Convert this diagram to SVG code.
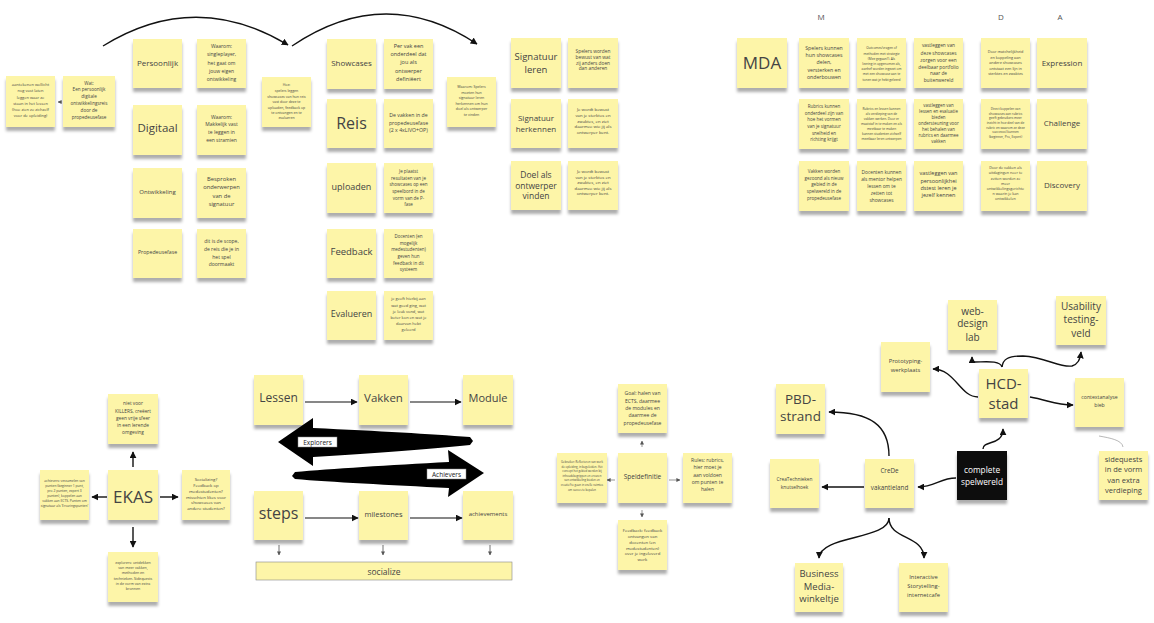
<svg xmlns="http://www.w3.org/2000/svg" width="1154" height="623" viewBox="0 0 1154 623">
<defs>
<filter id="sh" x="-20%" y="-20%" width="140%" height="150%"><feDropShadow dx="0" dy="4" stdDeviation="1.8" flood-color="#000" flood-opacity="0.32"/></filter>
<marker id="ah" viewBox="0 0 10 10" refX="9" refY="5" markerWidth="7" markerHeight="7" orient="auto" markerUnits="userSpaceOnUse"><path d="M0,0 L10,5 L0,10 z" fill="#111"/></marker>
<marker id="as" viewBox="0 0 10 10" refX="9" refY="5" markerWidth="4" markerHeight="4" orient="auto" markerUnits="userSpaceOnUse"><path d="M0,0 L10,5 L0,10 z" fill="#555"/></marker>
</defs>
<style>
.n{fill:#fdf5a8;filter:url(#sh)}
.blk{fill:#111;filter:url(#sh)}
text{font-family:"Open Sans","Liberation Sans",sans-serif;fill:#444;text-anchor:middle;dominant-baseline:central}
.w{fill:#fff}
.lbl{fill:#555}
.c{fill:none;stroke:#111;stroke-width:1.4;marker-end:url(#ah)}
.cs{fill:none;stroke:#666;stroke-width:0.7;marker-end:url(#as)}
.f28{font-size:2.8px}.f32{font-size:3.2px}.f33{font-size:3.3px}.f35{font-size:3.5px}.f36{font-size:3.6px}.f37{font-size:3.7px}.f38{font-size:3.8px}.f4{font-size:4px}.f43{font-size:4.3px}.f44{font-size:4.4px}.f45{font-size:4.5px}.f46{font-size:4.6px}.f48{font-size:4.8px}.f5{font-size:5px}.f52{font-size:5.2px}.f55{font-size:5.5px}.f58{font-size:5.8px}.f6{font-size:6px}.f63{font-size:6.3px}.f65{font-size:6.5px}.f66{font-size:6.6px}.f7{font-size:7px}.f75{font-size:7.5px}.f8{font-size:8px}.f83{font-size:8.3px}.f85{font-size:8.5px}.f9{font-size:9px}.f95{font-size:9.5px}.f10{font-size:10px}.f11{font-size:11px}.f115{font-size:11.5px}.f12{font-size:12px}.f135{font-size:13.5px}.f15{font-size:15px}.f16{font-size:16px}.f17{font-size:17px}
</style>
<rect width="1154" height="623" fill="#fff"/>

<g id="connectors">
<path class="c" d="M103 46 Q195 -11 288 45"/>
<path class="c" d="M292 46 Q385 -17 477 44"/>
<path class="cs" d="M62 102 L58 102"/>
<path class="c" d="M305 402 L357 402" style="stroke-width:1.1"/>
<path class="c" d="M410 402 L461 402" style="stroke-width:1.1"/>
<path class="c" d="M305 518 L358 518" style="stroke-width:1.1"/>
<path class="c" d="M410 518 L462 518" style="stroke-width:1.1"/>
<path class="cs" d="M279 545 L279 555" style="stroke:#333"/>
<path class="cs" d="M383 545 L383 555" style="stroke:#333"/>
<path class="cs" d="M490 545 L490 555" style="stroke:#333"/>
<path class="c" d="M133 467 L133 452"/>
<path class="c" d="M107 497 L92 497"/>
<path class="c" d="M160 497 L178 497"/>
<path class="c" d="M133 527 L133 547"/>
<path class="cs" d="M642 447 L642 441"/>
<path class="cs" d="M615 480 L607 480"/>
<path class="cs" d="M669 480 L680 480"/>
<path class="cs" d="M642 510 L642 517"/>
<path class="c" d="M983 449 C983 440 1003 446 1003 429"/>
<path class="c" d="M956 478 C940 478 935 487 918 487"/>
<path class="c" d="M889 456 C889 425 870 412 829 412"/>
<path class="c" d="M864 487 L822 487"/>
<path class="c" d="M889 518 C889 540 820 535 819 558"/>
<path class="c" d="M889 518 C889 540 924 535 924 558"/>
<path class="c" d="M978 397 C960 397 955 369 933 369"/>
<path class="c" d="M1002 367 C1000 360 985 362 975 362 C973 362 972 360 972 357"/>
<path class="c" d="M1002 367 C1003 359 1008 356 1023 356 C1045 357 1060 368 1072 366 C1078 364 1080 360 1081 352"/>
<path class="c" d="M1030 397 C1048 400 1055 405 1073 405"/>
<path d="M1099 436 C1110 438 1122 440 1123 447" fill="none" stroke="#999" stroke-width="0.7"/>
<path d="M278 442 L313 418 L313 428 C380 431 430 434 470 437 L473 441 L470 445 C430 449 380 453 313 457 L313 466 Z" fill="#000"/>
<path d="M484 473 L448 450 L449 462 C390 465 330 469 295 472 L292 476 L295 479 C330 482 390 485 449 488 L448 497 Z" fill="#000"/>
<rect x="298" y="437" width="39" height="10" fill="#fff" stroke="#888" stroke-width="0.5"/>
<text class="f65" x="317.5" y="442" style="fill:#222">Explorers</text>
<rect x="427" y="469" width="39" height="10" fill="#fff" stroke="#888" stroke-width="0.5"/>
<text class="f65" x="446.5" y="474" style="fill:#222">Achievers</text>
</g>

<g id="n-aantekenen"><rect class="n" x="6" y="76" width="49" height="51"/><text class="f4"><tspan x="30.5" y="84">aantekenen wellicht</tspan><tspan x="30.5" y="90">nog vast laten</tspan><tspan x="30.5" y="96.5">leggen waar ze</tspan><tspan x="30.5" y="102.5">staan in het lessen</tspan><tspan x="30.5" y="108.5">(hoe zien ze zichzelf</tspan><tspan x="30.5" y="114.5">voor de opleiding)</tspan></text></g>
<g id="n-wat"><rect class="n" x="63" y="76" width="52" height="51"/><text class="f46"><tspan x="89" y="82.7">Wat:</tspan><tspan x="89" y="89.3">Een persoonlijk</tspan><tspan x="89" y="96">digitale</tspan><tspan x="89" y="102.7">ontwikkelingsreis</tspan><tspan x="89" y="110">door de</tspan><tspan x="89" y="116.7">propedeusefase</tspan></text></g>

<g id="n-persoonlijk"><rect class="n" x="133" y="39" width="49" height="49"/><text class="f8" x="157.5" y="62.5">Persoonlijk</text></g>
<g id="n-waarom1"><rect class="n" x="197" y="39" width="49" height="49"/><text class="f5"><tspan x="221.5" y="46">Waarom:</tspan><tspan x="221.5" y="54.3">singleplayer,</tspan><tspan x="221.5" y="62.5">het gaat om</tspan><tspan x="221.5" y="70.7">jouw eigen</tspan><tspan x="221.5" y="79">ontwikkeling</tspan></text></g>
<g id="n-digitaal"><rect class="n" x="133" y="105" width="49" height="50"/><text class="f115" x="157.5" y="127.7">Digitaal</text></g>
<g id="n-waarom2"><rect class="n" x="197" y="105" width="49" height="50"/><text class="f5"><tspan x="221.5" y="116.7">Waarom:</tspan><tspan x="221.5" y="124.3">Makkelijk vast</tspan><tspan x="221.5" y="132.3">te leggen in</tspan><tspan x="221.5" y="140">een stramien</tspan></text></g>
<g id="n-ontwikkeling"><rect class="n" x="133" y="168" width="49" height="50"/><text class="f6" x="157.5" y="192.3">Ontwikkeling</text></g>
<g id="n-besproken"><rect class="n" x="197" y="168" width="49" height="50"/><text class="f58"><tspan x="221.5" y="179">Besproken</tspan><tspan x="221.5" y="187.3">onderwerpen</tspan><tspan x="221.5" y="195.7">van de</tspan><tspan x="221.5" y="204">signatuur</tspan></text></g>
<g id="n-propedeusefase"><rect class="n" x="133" y="229" width="49" height="49"/><text class="f52" x="157.5" y="251.7">Propedeusefase</text></g>
<g id="n-scope"><rect class="n" x="197" y="229" width="49" height="49"/><text class="f5"><tspan x="221.5" y="240.7">dit is de scope,</tspan><tspan x="221.5" y="248.7">de reis die je in</tspan><tspan x="221.5" y="256.7">het spel</tspan><tspan x="221.5" y="264.3">doormaakt</tspan></text></g>

<g id="n-hoe"><rect class="n" x="262" y="77" width="49" height="50"/><text class="f35"><tspan x="286.5" y="84.3">Hoe:</tspan><tspan x="286.5" y="90">spelers leggen</tspan><tspan x="286.5" y="95.7">showcases van hun reis</tspan><tspan x="286.5" y="101">vast door deze te</tspan><tspan x="286.5" y="106.5">uploaden, feedback op</tspan><tspan x="286.5" y="111.7">te ontvangen en te</tspan><tspan x="286.5" y="117">evalueren</tspan></text></g>
<g id="n-showcases"><rect class="n" x="327" y="39" width="49" height="50"/><text class="f8" x="351.5" y="62.3">Showcases</text></g>
<g id="n-pervak"><rect class="n" x="384" y="39" width="49" height="50"/><text class="f55"><tspan x="408.5" y="46">Per vak een</tspan><tspan x="408.5" y="54.3">onderdeel dat</tspan><tspan x="408.5" y="62.3">jou als</tspan><tspan x="408.5" y="70.7">ontwerper</tspan><tspan x="408.5" y="79">definiëert</tspan></text></g>
<g id="n-reis"><rect class="n" x="327" y="99" width="49" height="49"/><text class="f16" x="351.5" y="122.7">Reis</text></g>
<g id="n-vakken-p"><rect class="n" x="384" y="99" width="49" height="49"/><text class="f52"><tspan x="408.5" y="115.3">De vakken in de</tspan><tspan x="408.5" y="122.7">propedeusefase</tspan><tspan x="408.5" y="130">(2 x 4xLIVO+OP)</tspan></text></g>
<g id="n-uploaden"><rect class="n" x="327" y="163" width="49" height="50"/><text class="f9" x="351.5" y="186.7">uploaden</text></g>
<g id="n-plaatst"><rect class="n" x="384" y="163" width="49" height="50"/><text class="f45"><tspan x="408.5" y="171">Je plaatst</tspan><tspan x="408.5" y="177.7">resultaten van je</tspan><tspan x="408.5" y="184.3">showcases op een</tspan><tspan x="408.5" y="191">speelbord in de</tspan><tspan x="408.5" y="197.7">vorm van de P-</tspan><tspan x="408.5" y="204.3">fase</tspan></text></g>
<g id="n-feedback"><rect class="n" x="327" y="229" width="49" height="49"/><text class="f95" x="351.5" y="251.7">Feedback</text></g>
<g id="n-docenten"><rect class="n" x="384" y="229" width="49" height="49"/><text class="f45"><tspan x="408.5" y="236">Docenten (en</tspan><tspan x="408.5" y="242.7">mogelijk</tspan><tspan x="408.5" y="249.3">medestudenten)</tspan><tspan x="408.5" y="256">geven hun</tspan><tspan x="408.5" y="262.7">feedback in dit</tspan><tspan x="408.5" y="269.3">systeem</tspan></text></g>
<g id="n-evalueren"><rect class="n" x="327" y="291" width="49" height="49"/><text class="f9" x="351.5" y="313.3">Evalueren</text></g>
<g id="n-geeft"><rect class="n" x="384" y="291" width="49" height="49"/><text class="f4"><tspan x="408.5" y="298.3">je geeft hierbij aan</tspan><tspan x="408.5" y="305">wat goed ging, wat</tspan><tspan x="408.5" y="311">je leuk vond, wat</tspan><tspan x="408.5" y="317.3">beter kon en wat je</tspan><tspan x="408.5" y="323.3">daarvan hebt</tspan><tspan x="408.5" y="329.3">geleerd</tspan></text></g>
<g id="n-waarom3"><rect class="n" x="447" y="77" width="49" height="50"/><text class="f36"><tspan x="471.5" y="86">Waarom: Spelers</tspan><tspan x="471.5" y="91.7">moeten hun</tspan><tspan x="471.5" y="97.3">signatuur leren</tspan><tspan x="471.5" y="102.7">herkennen om hun</tspan><tspan x="471.5" y="108.3">doel als ontwerper</tspan><tspan x="471.5" y="114">te vinden</tspan></text></g>

<g id="n-sig-leren"><rect class="n" x="511" y="38" width="50" height="50"/><text class="f95"><tspan x="536" y="56">Signatuur</tspan><tspan x="536" y="69">leren</tspan></text></g>
<g id="n-spelers-bewust"><rect class="n" x="568" y="38" width="50" height="50"/><text class="f48"><tspan x="593" y="50.7">Spelers worden</tspan><tspan x="593" y="56.7">bewust van wat</tspan><tspan x="593" y="62.7">zij anders doen</tspan><tspan x="593" y="68.3">dan anderen</tspan></text></g>
<g id="n-sig-herkennen"><rect class="n" x="511" y="99" width="50" height="49"/><text class="f8"><tspan x="536" y="117.3">Signatuur</tspan><tspan x="536" y="128.3">herkennen</tspan></text></g>
<g id="n-bewust1"><rect class="n" x="568" y="99" width="50" height="49"/><text class="f43"><tspan x="593" y="109.3">Je wordt bewust</tspan><tspan x="593" y="115">van je sterktes en</tspan><tspan x="593" y="120.7">zwaktes, en ziet</tspan><tspan x="593" y="126">daarmee wie jij als</tspan><tspan x="593" y="131.7">ontwerper bent.</tspan></text></g>
<g id="n-doel"><rect class="n" x="511" y="161" width="50" height="49"/><text class="f85"><tspan x="536" y="174">Doel als</tspan><tspan x="536" y="184.5">ontwerper</tspan><tspan x="536" y="195">vinden</tspan></text></g>
<g id="n-bewust2"><rect class="n" x="568" y="161" width="50" height="49"/><text class="f43"><tspan x="593" y="171">Je wordt bewust</tspan><tspan x="593" y="176.7">van je sterktes en</tspan><tspan x="593" y="182.3">zwaktes, en ziet</tspan><tspan x="593" y="187.7">daarmee wie jij als</tspan><tspan x="593" y="193.3">ontwerper bent.</tspan></text></g>

<g id="mda-labels"><text class="f8 lbl" x="821" y="16">M</text><text class="f8 lbl" x="1001" y="16">D</text><text class="f8 lbl" x="1060" y="16">A</text></g>
<g id="n-mda"><rect class="n" x="737" y="38" width="50" height="50"/><text class="f17" x="762" y="62.3">MDA</text></g>
<g id="n-m1"><rect class="n" x="799" y="38" width="50" height="50"/><text class="f52"><tspan x="824" y="47.7">Spelers kunnen</tspan><tspan x="824" y="55">hun showcases</tspan><tspan x="824" y="62.3">delen,</tspan><tspan x="824" y="70">versterken en</tspan><tspan x="824" y="77.3">onderbouwen</tspan></text></g>
<g id="n-m2"><rect class="n" x="799" y="99" width="50" height="50"/><text class="f45"><tspan x="824" y="105.7">Rubrics kunnen</tspan><tspan x="824" y="112.7">onderdeel zijn van</tspan><tspan x="824" y="119.3">hoe het vormen</tspan><tspan x="824" y="126">van je signatuur</tspan><tspan x="824" y="132.7">snelheid en</tspan><tspan x="824" y="139.3">richting krijgt</tspan></text></g>
<g id="n-m3"><rect class="n" x="799" y="161" width="50" height="50"/><text class="f45"><tspan x="824" y="171">Vakken worden</tspan><tspan x="824" y="177.7">gezoond als nieuw</tspan><tspan x="824" y="184.3">gebied in de</tspan><tspan x="824" y="191">spelwereld in de</tspan><tspan x="824" y="197.7">propedeusefase</tspan></text></g>
<g id="n-m4"><rect class="n" x="857" y="38" width="49" height="50"/><text class="f32"><tspan x="881.5" y="48.3">Outcomes/vragen of</tspan><tspan x="881.5" y="53.5">methoden met strategie</tspan><tspan x="881.5" y="58.7">(Mee gegaan?). Als</tspan><tspan x="881.5" y="63.9">leering in opgenomen als,</tspan><tspan x="881.5" y="69.1">aanhef worden ingezet om</tspan><tspan x="881.5" y="74.3">met een showcase aan te</tspan><tspan x="881.5" y="79.5">tonen wat je hebt geleerd</tspan></text></g>
<g id="n-m5"><rect class="n" x="857" y="99" width="49" height="50"/><text class="f32"><tspan x="881.5" y="109">Rubrics en lessen kunnen</tspan><tspan x="881.5" y="114">als verdieping van de</tspan><tspan x="881.5" y="119">vakken werken. Door er</tspan><tspan x="881.5" y="124">maatstaf in te maken en als</tspan><tspan x="881.5" y="129">meetbaar te maken</tspan><tspan x="881.5" y="134">kunnen studenten zichzelf</tspan><tspan x="881.5" y="139">meetbaar leren ontwerpen</tspan></text></g>
<g id="n-m6"><rect class="n" x="857" y="161" width="49" height="50"/><text class="f48"><tspan x="881.5" y="171.7">Docenten kunnen</tspan><tspan x="881.5" y="179">als mentor helpen</tspan><tspan x="881.5" y="186">lessen om te</tspan><tspan x="881.5" y="193.3">zetten tot</tspan><tspan x="881.5" y="200">showcases</tspan></text></g>
<g id="n-m7"><rect class="n" x="914" y="38" width="49" height="50"/><text class="f48"><tspan x="938.5" y="45">vastleggen van</tspan><tspan x="938.5" y="52.7">deze showcases</tspan><tspan x="938.5" y="60">zorgen voor een</tspan><tspan x="938.5" y="66.7">deelbaar portfolio</tspan><tspan x="938.5" y="73.3">naar de</tspan><tspan x="938.5" y="80">buitenwereld</tspan></text></g>
<g id="n-m8"><rect class="n" x="914" y="99" width="49" height="50"/><text class="f44"><tspan x="938.5" y="105">vastleggen van</tspan><tspan x="938.5" y="111">lessen en evaluatie</tspan><tspan x="938.5" y="117.3">bieden</tspan><tspan x="938.5" y="123.3">ondersteuning voor</tspan><tspan x="938.5" y="129.3">het behalen van</tspan><tspan x="938.5" y="135">rubrics en daarmee</tspan><tspan x="938.5" y="141">vakken</tspan></text></g>
<g id="n-m9"><rect class="n" x="914" y="161" width="49" height="50"/><text class="f55"><tspan x="938.5" y="173.3">vastleggen van</tspan><tspan x="938.5" y="180.7">persoonlijkhei</tspan><tspan x="938.5" y="187.7">dstest leren je</tspan><tspan x="938.5" y="195">jezelf kennen</tspan></text></g>
<g id="n-d1"><rect class="n" x="981" y="38" width="49" height="50"/><text class="f38"><tspan x="1005.5" y="51">Door matchelijkheid</tspan><tspan x="1005.5" y="56.7">en koppeling aan</tspan><tspan x="1005.5" y="62.3">andere showcases</tspan><tspan x="1005.5" y="67.7">ontstaat een lijn in</tspan><tspan x="1005.5" y="73.3">sterktes en zwaktes</tspan></text></g>
<g id="n-d2"><rect class="n" x="981" y="99" width="49" height="50"/><text class="f32"><tspan x="1005.5" y="109">Direct koppelen van</tspan><tspan x="1005.5" y="113.7">showcases aan rubrics</tspan><tspan x="1005.5" y="118.3">geeft gebruikers meer</tspan><tspan x="1005.5" y="123">inzicht in hoe deel van de</tspan><tspan x="1005.5" y="127.7">rubric en waarom ze deze</tspan><tspan x="1005.5" y="132.3">succesvol kunnen</tspan><tspan x="1005.5" y="137">(beginner, Pro, Expert)</tspan></text></g>
<g id="n-d3"><rect class="n" x="981" y="161" width="49" height="50"/><text class="f37"><tspan x="1005.5" y="167.3">Door de vakken als</tspan><tspan x="1005.5" y="172.3">uitdagingen neer te</tspan><tspan x="1005.5" y="177.7">zetten worden ze</tspan><tspan x="1005.5" y="182.7">meer</tspan><tspan x="1005.5" y="188">ontwikkelingsgerichte</tspan><tspan x="1005.5" y="193">n waarin je kan</tspan><tspan x="1005.5" y="198.3">ontwikkelen</tspan></text></g>
<g id="n-expression"><rect class="n" x="1037" y="38" width="50" height="50"/><text class="f8" x="1062" y="62.3">Expression</text></g>
<g id="n-challenge"><rect class="n" x="1037" y="99" width="50" height="50"/><text class="f8" x="1062" y="122.3">Challenge</text></g>
<g id="n-discovery"><rect class="n" x="1037" y="161" width="50" height="50"/><text class="f8" x="1062" y="184.3">Discovery</text></g>

<g id="n-killers"><rect class="n" x="108" y="394" width="50" height="50"/><text class="f48"><tspan x="133" y="403.3">niet voor</tspan><tspan x="133" y="410.7">KILLERS, creëert</tspan><tspan x="133" y="417.7">geen vrije sfeer</tspan><tspan x="133" y="425">in een lerende</tspan><tspan x="133" y="432.3">omgeving</tspan></text></g>
<g id="n-ekas"><rect class="n" x="108" y="470" width="50" height="50"/><text class="f17" x="133" y="496">EKAS</text></g>
<g id="n-achievers"><rect class="n" x="40" y="470" width="49" height="50"/><text class="f33"><tspan x="64.5" y="480">achievers: verzamelen van</tspan><tspan x="64.5" y="485">punten (beginner 1 punt,</tspan><tspan x="64.5" y="490">pro 2 punten, expert 3</tspan><tspan x="64.5" y="495">punten), koppelen aan</tspan><tspan x="64.5" y="500">vakken aan ECTS. Punten om</tspan><tspan x="64.5" y="505">signatuur als 'Ervaringspunten'</tspan></text></g>
<g id="n-socializing"><rect class="n" x="182" y="470" width="48" height="50"/><text class="f43"><tspan x="206" y="479.3">Socializing?</tspan><tspan x="206" y="485">Feedback op</tspan><tspan x="206" y="491">medestudenten?</tspan><tspan x="206" y="496.7">misschien likes voor</tspan><tspan x="206" y="502.3">showcases van</tspan><tspan x="206" y="508.3">andere studenten?</tspan></text></g>
<g id="n-explorers"><rect class="n" x="108" y="552" width="50" height="50"/><text class="f36"><tspan x="133" y="562.3">explorers: ontdekken</tspan><tspan x="133" y="567.3">van meer vakken,</tspan><tspan x="133" y="572.3">methoden en</tspan><tspan x="133" y="577.7">technieken. Sidequests</tspan><tspan x="133" y="582.7">in de vorm van extra</tspan><tspan x="133" y="588">bronnen</tspan></text></g>

<g id="n-lessen"><rect class="n" x="254" y="375" width="49" height="50"/><text class="f12" x="278.5" y="397.7">Lessen</text></g>
<g id="n-vakken"><rect class="n" x="359" y="375" width="49" height="50"/><text class="f115" x="383.5" y="397.7">Vakken</text></g>
<g id="n-module"><rect class="n" x="463" y="375" width="50" height="50"/><text class="f11" x="488" y="397.7">Module</text></g>
<g id="n-steps"><rect class="n" x="254" y="491" width="49" height="49"/><text class="f16" x="278.5" y="513">steps</text></g>
<g id="n-milestones"><rect class="n" x="359" y="491" width="49" height="49"/><text class="f75" x="383.5" y="514.3">milestones</text></g>
<g id="n-achievements"><rect class="n" x="463" y="491" width="50" height="49"/><text class="f6" x="488" y="514.3">achievements</text></g>
<g id="n-socialize"><rect x="256" y="562" width="256" height="18" fill="#fdf5a8" stroke="#888" stroke-width="0.6"/><text class="f85" x="384" y="571">socialize</text></g>

<g id="n-goal"><rect class="n" x="618" y="384" width="49" height="49"/><text class="f5"><tspan x="642.5" y="393.3">Goal: halen van</tspan><tspan x="642.5" y="400.7">ECTS, daarmee</tspan><tspan x="642.5" y="408">de modules en</tspan><tspan x="642.5" y="415.3">daarmee de</tspan><tspan x="642.5" y="422.7">propedeusefase</tspan></text></g>
<g id="n-speldefinitie"><rect class="n" x="618" y="453" width="49" height="50"/><text class="f65" x="642.5" y="476.7">Speldefinitie</text></g>
<g id="n-gebruiker"><rect class="n" x="557" y="453" width="50" height="50"/><text class="f28"><tspan x="582" y="462">Gebruiker: Reflecteren van werk</tspan><tspan x="582" y="466.6">de opleiding, in begeleiden. Het</tspan><tspan x="582" y="471.2">concept het gebied werden bij</tspan><tspan x="582" y="475.8">inhoudsbegrippen en ervaren</tspan><tspan x="582" y="480.4">van ontwikkeling bieden en</tspan><tspan x="582" y="485">creatief te gaan in snelle ruimtes</tspan><tspan x="582" y="489.6">om succes te bepalen</tspan></text></g>
<g id="n-rules"><rect class="n" x="683" y="453" width="49" height="50"/><text class="f5"><tspan x="707.5" y="460">Rules: rubrics,</tspan><tspan x="707.5" y="467.3">hier moet je</tspan><tspan x="707.5" y="474.7">aan voldoen</tspan><tspan x="707.5" y="482">om punten te</tspan><tspan x="707.5" y="489.3">halen</tspan></text></g>
<g id="n-fb"><rect class="n" x="618" y="520" width="49" height="50"/><text class="f43"><tspan x="642.5" y="530">Feedback: feedback</tspan><tspan x="642.5" y="536">ontvangen van</tspan><tspan x="642.5" y="541.7">docenten (en</tspan><tspan x="642.5" y="547.7">medestudenten)</tspan><tspan x="642.5" y="553.3">over je ingeleverd</tspan><tspan x="642.5" y="559">werk</tspan></text></g>

<g id="n-webdesign"><rect class="n" x="948" y="300" width="49" height="50"/><text class="f10"><tspan x="972.5" y="310.7">web-</tspan><tspan x="972.5" y="323.3">design</tspan><tspan x="972.5" y="336.7">lab</tspan></text></g>
<g id="n-prototyping"><rect class="n" x="881" y="342" width="49" height="50"/><text class="f58"><tspan x="905.5" y="360.7">Prototyping-</tspan><tspan x="905.5" y="370">werkplaats</tspan></text></g>
<g id="n-pbd"><rect class="n" x="776" y="384" width="49" height="50"/><text class="f135"><tspan x="800.5" y="399">PBD-</tspan><tspan x="800.5" y="416">strand</tspan></text></g>
<g id="n-crea"><rect class="n" x="770" y="459" width="49" height="49"/><text class="f48"><tspan x="794.5" y="479.3">CreaTechnieken</tspan><tspan x="794.5" y="486.7">knutselhoek</tspan></text></g>
<g id="n-crede"><rect class="n" x="865" y="459" width="49" height="49"/><text class="f63"><tspan x="889.5" y="470">CreDe</tspan><tspan x="889.5" y="487">vakantieland</tspan></text></g>
<g id="n-complete"><rect class="blk" x="957" y="451" width="50" height="49"/><text class="f83 w"><tspan x="982" y="469">complete</tspan><tspan x="982" y="480.7">spelwereld</tspan></text></g>
<g id="n-hcd"><rect class="n" x="979" y="369" width="49" height="49"/><text class="f15"><tspan x="1003.5" y="382.7">HCD-</tspan><tspan x="1003.5" y="402.7">stad</tspan></text></g>
<g id="n-usability"><rect class="n" x="1056" y="296" width="50" height="49"/><text class="f10"><tspan x="1081" y="306">Usability</tspan><tspan x="1081" y="319.3">testing-</tspan><tspan x="1081" y="332.7">veld</tspan></text></g>
<g id="n-context"><rect class="n" x="1075" y="378" width="49" height="49"/><text class="f52"><tspan x="1099.5" y="397.3">contextanalyse</tspan><tspan x="1099.5" y="405">bieb</tspan></text></g>
<g id="n-sidequests"><rect class="n" x="1099" y="451" width="49" height="49"/><text class="f75"><tspan x="1123.5" y="459.3">sidequests</tspan><tspan x="1123.5" y="469.3">in de vorm</tspan><tspan x="1123.5" y="480">van extra</tspan><tspan x="1123.5" y="490.3">verdieping</tspan></text></g>
<g id="n-business"><rect class="n" x="795" y="563" width="48" height="49"/><text class="f95"><tspan x="819" y="573.3">Business</tspan><tspan x="819" y="586">Media-</tspan><tspan x="819" y="598.3">winkeltje</tspan></text></g>
<g id="n-interactive"><rect class="n" x="899" y="563" width="49" height="49"/><text class="f58"><tspan x="923.5" y="576.7">Interactive</tspan><tspan x="923.5" y="586">Storytelling-</tspan><tspan x="923.5" y="595">internetcafe</tspan></text></g>
</svg>
